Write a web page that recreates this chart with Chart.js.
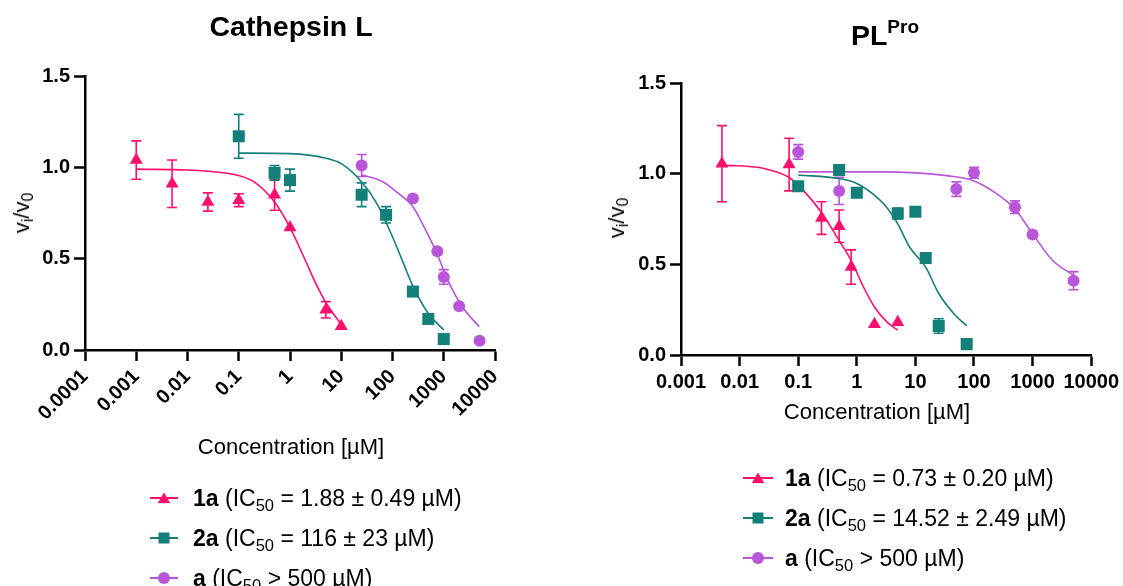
<!DOCTYPE html>
<html>
<head>
<meta charset="utf-8">
<script src="https://cdn.jsdelivr.net/npm/chart.js@4.4.1/dist/chart.umd.min.js"></script>
<style>
body { margin: 0; background: #fff; font-family: 'Liberation Sans', Arial, sans-serif; color: #000; }
#page { position: relative; width: 1123px; height: 586px; overflow: hidden; }
.holder { position: absolute; top: 0; }
.txt { position: absolute; line-height: 1; white-space: nowrap; }
.title { font-weight: bold; font-size: 28.5px; transform: translateX(-50%); }
.xtitle { font-size: 22px; transform: translateX(-50%); }
.ytitle { font-size: 22px; transform: translate(-50%, -50%) rotate(-90deg); }
sub { font-size: 0.72em; vertical-align: -0.28em; line-height: 0; }
.legend { position: absolute; font-size: 23px; }
.row { height: 40px; display: flex; align-items: center; white-space: nowrap; }
.sw { position: relative; display: inline-block; height: 14px; }
.sw::before { content: ''; position: absolute; left: 0; right: 0; top: 6px; height: 2px; background: var(--c); }
.sw i { position: absolute; left: 50%; top: 50%; transform: translate(-50%, -50%); background: var(--c); }
.sw i.tri { width: 13px; height: 11px; clip-path: polygon(50% 0, 100% 100%, 0 100%); }
.sw i.sq { width: 11px; height: 11px; }
.sw i.dot { width: 12px; height: 12px; border-radius: 50%; }
</style>
</head>
<body>
<div id="page">
  <div class="holder" style="left:0"><canvas id="catL" width="560" height="470"></canvas></div>
  <div class="holder" style="left:560px"><canvas id="plpro" width="563" height="470"></canvas></div>

  <div class="txt title" style="left:291px; top:12px">Cathepsin L</div>
  <div class="txt title" style="left:885px; top:21px">PL<span style="position:relative; top:-12px; font-size:19px">Pro</span></div>

  <div class="txt ytitle" style="left:22px; top:213px">v<sub>i</sub>/v<sub>0</sub></div>
  <div class="txt ytitle" style="left:617px; top:218px">v<sub>i</sub>/v<sub>0</sub></div>

  <div class="txt xtitle" style="left:291px; top:436px">Concentration [µM]</div>
  <div class="txt xtitle" style="left:877px; top:401px">Concentration [µM]</div>

  <div class="legend" style="left:150px; top:478px">
    <div class="row"><span class="sw" style="--c:#ff0f6c; width:28px; margin-right:15px"><i class="tri"></i></span><span><b>1a</b> (IC<sub>50</sub> = 1.88 ± 0.49 µM)</span></div>
    <div class="row"><span class="sw" style="--c:#137f79; width:28px; margin-right:15px"><i class="sq"></i></span><span><b>2a</b> (IC<sub>50</sub> = 116 ± 23 µM)</span></div>
    <div class="row"><span class="sw" style="--c:#b955d9; width:28px; margin-right:15px"><i class="dot"></i></span><span><b>a</b> (IC<sub>50</sub> &gt; 500 µM)</span></div>
  </div>
  <div class="legend" style="left:743px; top:458px">
    <div class="row"><span class="sw" style="--c:#ff0f6c; width:30px; margin-right:12px"><i class="tri"></i></span><span><b>1a</b> (IC<sub>50</sub> = 0.73 ± 0.20 µM)</span></div>
    <div class="row"><span class="sw" style="--c:#137f79; width:30px; margin-right:12px"><i class="sq"></i></span><span><b>2a</b> (IC<sub>50</sub> = 14.52 ± 2.49 µM)</span></div>
    <div class="row"><span class="sw" style="--c:#b955d9; width:30px; margin-right:12px"><i class="dot"></i></span><span><b>a</b> (IC<sub>50</sub> &gt; 500 µM)</span></div>
  </div>
</div>

<script>
var PINK = '#ff0f6c';
var TEAL = '#137f79';
var PURPLE = '#b955d9';
var FONT = "'Liberation Sans', Arial, sans-serif";

// y axis
var yTicks = [0, 0.5, 1, 1.5];
var yTickLabels = ['0.0', '0.5', '1.0', '1.5'];

// Cathepsin L
var catTicks = [0.0001, 0.001, 0.01, 0.1, 1, 10, 100, 1000, 10000];
var catTickLabels = ['0.0001', '0.001', '0.01', '0.1', '1', '10', '100', '1000', '10000'];

var cat1aX = [0.001, 0.005, 0.025, 0.1, 0.5, 1, 5, 10];
var cat1aY = [1.04, 0.91, 0.81, 0.82, 0.85, 0.67, 0.22, 0.13];
var cat1aErr = [0.105, 0.13, 0.05, 0.035, 0.085, 0, 0.045, 0];
var cat1aFitX = [0.001, 0.01, 0.05, 0.1, 0.2, 0.5, 1, 2, 3, 5, 10];
var cat1aFitY = [0.99, 0.985, 0.97, 0.955, 0.92, 0.81, 0.67, 0.49, 0.38, 0.26, 0.14];

var cat2aX = [0.1, 0.5, 1, 25, 75, 250, 500, 1000];
var cat2aY = [1.17, 0.97, 0.93, 0.85, 0.74, 0.32, 0.17, 0.06];
var cat2aErr = [0.12, 0.04, 0.06, 0.065, 0.045, 0, 0, 0];
var cat2aFitX = [0.1, 1, 5, 10, 25, 50, 100, 150, 250, 500, 1000];
var cat2aFitY = [1.078, 1.075, 1.05, 1.02, 0.92, 0.80, 0.62, 0.50, 0.35, 0.20, 0.11];

var catAX = [25, 250, 750, 1000, 2000, 5000];
var catAY = [1.01, 0.83, 0.54, 0.40, 0.24, 0.05];
var catAErr = [0.06, 0, 0, 0.04, 0, 0];
var catAFitX = [25, 66, 130, 250, 410, 730, 1200, 2300, 4900];
var catAFitY = [0.96, 0.92, 0.857, 0.784, 0.675, 0.53, 0.383, 0.237, 0.128];

// PLpro
var plTicks = [0.001, 0.01, 0.1, 1, 10, 100, 1000, 10000];
var plTickLabels = ['0.001', '0.01', '0.1', '1', '10', '100', '1000', '10000'];

var pl1aX = [0.005, 0.07, 0.25, 0.5, 0.8, 2, 5];
var pl1aY = [1.055, 1.05, 0.755, 0.71, 0.485, 0.17, 0.18];
var pl1aErr = [0.21, 0.145, 0.09, 0.09, 0.095, 0, 0];
var pl1aFitX = [0.005, 0.025, 0.07, 0.14, 0.26, 0.5, 0.8, 1.3, 2, 3.25, 5];
var pl1aFitY = [1.047, 1.03, 0.979, 0.887, 0.778, 0.631, 0.521, 0.375, 0.265, 0.183, 0.137];

var pl2aX = [0.1, 0.5, 1, 5, 10, 15, 25, 75];
var pl2aY = [0.93, 1.02, 0.895, 0.78, 0.79, 0.535, 0.16, 0.06];
var pl2aErr = [0, 0, 0, 0.03, 0, 0, 0.04, 0];
var pl2aFitX = [0.1, 0.5, 1, 1.9, 3.25, 5, 8, 15, 25, 45, 75];
var pl2aFitY = [0.993, 0.973, 0.946, 0.887, 0.814, 0.723, 0.594, 0.485, 0.339, 0.229, 0.161];

var plAX = [0.1, 0.5, 50, 100, 500, 1000, 5000];
var plAY = [1.12, 0.905, 0.915, 1.005, 0.815, 0.665, 0.41];
var plAErr = [0.04, 0.075, 0.04, 0.03, 0.035, 0, 0.05];
var plAFitX = [0.1, 2.5, 37, 100, 250, 500, 1000, 2200, 5000];
var plAFitY = [1.01, 1.01, 0.988, 0.96, 0.887, 0.805, 0.668, 0.521, 0.439];

function pts(xs, ys) {
    return xs.map(function(x, i) { return { x: x, y: ys[i] }; });
}

function pointSet(xs, ys, errs, color, shape, radius) {
    return {
        data: pts(xs, ys),
        errors: errs,
        showLine: false,
        pointStyle: shape,
        pointRadius: radius,
        pointHoverRadius: radius,
        pointBorderWidth: 0,
        backgroundColor: color,
        borderColor: color,
        order: 0
    };
}

function fitSet(xs, ys, color) {
    return {
        data: pts(xs, ys),
        showLine: true,
        pointRadius: 0,
        borderColor: color,
        borderWidth: 1.6,
        cubicInterpolationMode: 'monotone',
        fill: false,
        order: 1
    };
}

// draws the vertical error bars with caps under the markers
var errorBars = {
    id: 'errorBars',
    beforeDatasetsDraw: function(chart) {
        var ctx = chart.ctx;
        var yScale = chart.scales.y;
        chart.data.datasets.forEach(function(ds, i) {
            if (!ds.errors) return;
            var meta = chart.getDatasetMeta(i);
            ctx.save();
            ctx.strokeStyle = ds.borderColor;
            ctx.lineWidth = 1.6;
            meta.data.forEach(function(pt, j) {
                var e = ds.errors[j];
                if (!e) return;
                var v = ds.data[j].y;
                var top = yScale.getPixelForValue(v + e);
                var bot = yScale.getPixelForValue(v - e);
                ctx.beginPath();
                ctx.moveTo(pt.x, top); ctx.lineTo(pt.x, bot);
                ctx.moveTo(pt.x - 5, top); ctx.lineTo(pt.x + 5, top);
                ctx.moveTo(pt.x - 5, bot); ctx.lineTo(pt.x + 5, bot);
                ctx.stroke();
            });
            ctx.restore();
        });
    }
};

function axisStyle() {
    return {
        border: { display: true, color: '#000', width: 2.5 },
        grid: { drawOnChartArea: false, drawTicks: true, tickLength: 11, tickColor: '#000', tickWidth: 2.5 }
    };
}

function makeChart(id, datasets, xMin, xTicks, xLabels, rotation, yWidth, xHeight, padding) {
    var xAxis = axisStyle();
    xAxis.type = 'logarithmic';
    xAxis.min = xMin;
    xAxis.max = 10000;
    xAxis.afterBuildTicks = function(s) { s.ticks = xTicks.map(function(v) { return { value: v }; }); };
    xAxis.afterFit = function(s) { s.height = xHeight; };
    xAxis.ticks = {
        autoSkip: false, minRotation: rotation, maxRotation: rotation, padding: 4, color: '#000',
        font: { family: FONT, size: 20, weight: 'bold' },
        callback: function(v, i) { return xLabels[i]; }
    };

    var yAxis = axisStyle();
    yAxis.type = 'linear';
    yAxis.min = 0;
    yAxis.max = 1.5;
    yAxis.afterBuildTicks = function(s) { s.ticks = yTicks.map(function(v) { return { value: v }; }); };
    yAxis.afterFit = function(s) { s.width = yWidth; };
    yAxis.ticks = {
        padding: 4, color: '#000',
        font: { family: FONT, size: 20, weight: 'bold' },
        callback: function(v, i) { return yTickLabels[i]; }
    };

    return new Chart(document.getElementById(id), {
        type: 'scatter',
        data: { datasets: datasets },
        options: {
            responsive: false,
            animation: false,
            layout: { padding: padding },
            plugins: { legend: { display: false }, tooltip: { enabled: false } },
            scales: { x: xAxis, y: yAxis }
        },
        plugins: [errorBars]
    });
}

makeChart('catL', [
    pointSet(cat1aX, cat1aY, cat1aErr, PINK, 'triangle', 7.5),
    pointSet(cat2aX, cat2aY, cat2aErr, TEAL, 'rect', 8.5),
    pointSet(catAX, catAY, catAErr, PURPLE, 'circle', 6),
    fitSet(cat1aFitX, cat1aFitY, PINK),
    fitSet(cat2aFitX, cat2aFitY, TEAL),
    fitSet(catAFitX, catAFitY, PURPLE)
], 0.0001, catTicks, catTickLabels, 45, 85, 120, { left: 0, right: 65, top: 76, bottom: 0 });

makeChart('plpro', [
    pointSet(pl1aX, pl1aY, pl1aErr, PINK, 'triangle', 7.5),
    pointSet(pl2aX, pl2aY, pl2aErr, TEAL, 'rect', 8.5),
    pointSet(plAX, plAY, plAErr, PURPLE, 'circle', 6),
    fitSet(pl1aFitX, pl1aFitY, PINK),
    fitSet(pl2aFitX, pl2aFitY, TEAL),
    fitSet(plAFitX, plAFitY, PURPLE)
], 0.001, plTicks, plTickLabels, 0, 121, 115, { left: 0, right: 31, top: 83, bottom: 0 });
</script>
</body>
</html>
